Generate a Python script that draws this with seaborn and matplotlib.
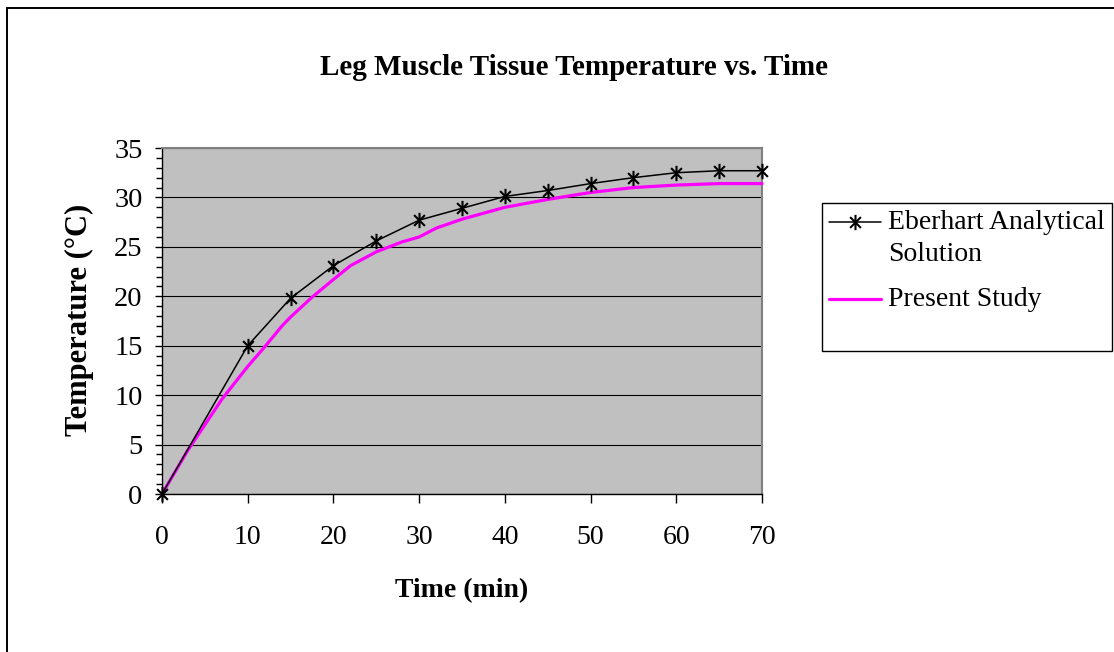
import numpy as np
import pandas as pd
import matplotlib
matplotlib.use("Agg")
import matplotlib.pyplot as plt
import seaborn as sns
from matplotlib.path import Path
from matplotlib.patches import Rectangle
from matplotlib.legend_handler import HandlerLine2D
from matplotlib.ticker import MultipleLocator

# DATA
eberhart_time = [0, 10, 15, 20, 25, 30, 35, 40, 45, 50, 55, 60, 65, 70]
eberhart_temp = [0, 15.0, 19.8, 23.1, 25.6, 27.7, 28.9, 30.1, 30.7, 31.4, 32.0, 32.5, 32.7, 32.7]

study_time = [0, 3, 7, 10, 12, 14, 15, 17.5, 20, 22, 25, 28, 30, 32, 35, 40, 45, 50, 55, 60, 65, 70]
study_temp = [0, 4.4, 9.6, 12.9, 14.9, 17.0, 17.9, 19.9, 21.7, 23.1, 24.5, 25.5, 26.0, 26.9,
              27.8, 29.0, 29.8, 30.5, 31.0, 31.25, 31.4, 31.4]

title = "Leg Muscle Tissue Temperature vs. Time"
x_label = "Time (min)"
y_label = "Temperature (°C)"
eberhart_name = "Eberhart Analytical Solution"
study_name = "Present Study"

# CONFIG
sns.set_style("ticks")
plt.rcParams["font.family"] = ["Liberation Serif", "DejaVu Serif"]
for key in ["text.color", "axes.labelcolor", "xtick.color", "ytick.color"]:
    plt.rcParams[key] = "black"

W, H = 1114, 652
fig = plt.figure(figsize=(W / 100, H / 100), dpi=100)
fig.patch.set_facecolor("white")

# chart area border (runs off the right / bottom edge in the reference)
fig.patches.append(Rectangle((7 / W, -0.2), 2, 1 - 8 / H + 0.2, transform=fig.transFigure,
                             fill=False, edgecolor="black", linewidth=1.4))

ax = fig.add_axes([162 / W, (H - 494) / H, 600 / W, 346 / H])
ax.set_facecolor("#C0C0C0")

eb_df = pd.DataFrame({"time": eberhart_time, "temp": eberhart_temp})
st_df = pd.DataFrame({"time": study_time, "temp": study_temp})

d = 0.7071
star = Path([(0, -1), (0, 1), (-d, -d), (d, d), (-d, d), (d, -d)],
            [Path.MOVETO, Path.LINETO] * 3)

sns.lineplot(data=st_df, x="time", y="temp", ax=ax, color="#FF00FF", linewidth=2.3,
             label=study_name, clip_on=False, zorder=3)
sns.lineplot(data=eb_df, x="time", y="temp", ax=ax, color="black", linewidth=1.1,
             marker=star, markersize=11, markeredgecolor="black", markeredgewidth=1.5,
             markerfacecolor="none", label=eberhart_name, clip_on=False, zorder=4)

ax.set_xlim(0, 70)
ax.set_ylim(0, 35)
ax.xaxis.set_major_locator(MultipleLocator(10))
ax.yaxis.set_major_locator(MultipleLocator(5))
ax.yaxis.set_minor_locator(MultipleLocator(1))
ax.grid(axis="y", which="major", color="black", linewidth=0.8)
ax.set_axisbelow(True)

for side in ["top", "right"]:
    ax.spines[side].set_color("#808080")
    ax.spines[side].set_linewidth(1.5)
for side in ["left", "bottom"]:
    ax.spines[side].set_color("black")
    ax.spines[side].set_linewidth(1.0)

ax.tick_params(axis="x", which="major", direction="out", length=6.5, width=1,
               labelsize=20, pad=16, color="black")
ax.tick_params(axis="y", which="major", direction="out", length=5, width=1,
               labelsize=20.5, pad=9, color="black")
ax.tick_params(axis="y", which="minor", direction="out", length=4, width=1, color="black")
ax.set_xlabel("")
ax.set_ylabel("")

fig.text(573.5 / W, 1 - 75 / H, title, ha="center", va="baseline",
         fontsize=21, fontweight="bold")
fig.text(462 / W, 1 - 597 / H, x_label, ha="center", va="baseline",
         fontsize=20, fontweight="bold")
fig.text(79 / W, 1 - 320 / H, y_label, ha="center", va="center", rotation=90,
         fontsize=22, fontweight="bold")


class FirstLineHandler(HandlerLine2D):
    # put the legend key next to the first line of a wrapped label
    def create_artists(self, legend, orig_handle, xdescent, ydescent, width, height,
                       fontsize, trans):
        artists = super().create_artists(legend, orig_handle, xdescent, ydescent,
                                         width, height, fontsize, trans)
        for a in artists:
            a.set_ydata(np.asarray(a.get_ydata()) + 0.6 * fontsize)
        return artists


handles, labels = ax.get_legend_handles_labels()
lookup = dict(zip(labels, handles))
h_eb, h_st = lookup[eberhart_name], lookup[study_name]
leg = ax.legend([h_eb, h_st], ["Eberhart Analytical\nSolution", "Present Study\n "],
                loc="upper left", bbox_to_anchor=(822 / W, 1 - 203 / H),
                bbox_transform=fig.transFigure, borderaxespad=0, fontsize=20,
                handlelength=1.87, handletextpad=0.25, borderpad=0.25,
                labelspacing=0.72, numpoints=1, fancybox=False, framealpha=1,
                edgecolor="black",
                handler_map={h_eb: FirstLineHandler(), h_st: FirstLineHandler()})
leg.get_frame().set_linewidth(1.0)
for t in leg.get_texts():
    t.set_linespacing(1.38)

fig.savefig("out.png", dpi=100)
